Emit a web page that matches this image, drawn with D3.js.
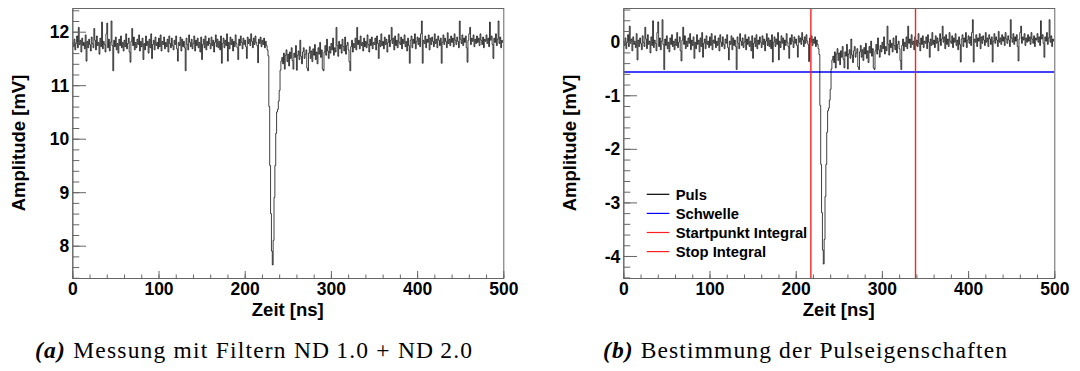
<!DOCTYPE html>
<html><head><meta charset="utf-8">
<script src="https://cdn.jsdelivr.net/npm/d3@7"></script>
<style>
html,body{margin:0;padding:0;background:#fff;}
svg{display:block;}
</style></head>
<body>
<svg id="chart" width="1080" height="371"></svg>
<script>
// ---------- data ----------
const sampleStepNs = 1;           // one sample per ns, t = 0 .. 499
const pulseMv = [
11.80,11.72,11.86,11.66,11.78,11.92,11.70,12.08,11.76,11.84,
11.62,11.88,11.74,11.80,11.68,11.94,11.45,11.82,11.70,11.86,
11.76,11.64,11.90,11.78,11.70,12.06,11.84,11.66,11.92,11.74,
11.80,11.58,11.88,11.72,12.18,11.68,11.82,11.76,11.62,11.96,
12.16,11.70,11.86,11.64,11.80,12.20,11.74,11.27,11.84,11.72,
11.90,11.66,11.78,11.60,11.86,11.74,11.92,11.70,11.80,11.64,
11.84,11.72,11.96,11.68,11.78,11.88,11.62,11.43,11.82,12.06,
11.74,11.90,11.66,11.80,11.70,11.86,11.76,11.94,11.64,11.82,
11.72,11.88,11.48,11.78,11.66,11.92,11.74,11.82,11.60,11.86,
11.70,11.96,11.50,11.76,11.84,11.66,11.90,11.74,11.80,11.68,
11.88,11.72,11.94,11.64,11.82,11.76,11.90,11.68,11.80,11.72,
11.86,11.62,11.92,11.78,11.70,11.88,11.74,11.66,11.84,11.76,
11.92,11.68,11.45,11.80,11.74,11.90,11.64,11.86,11.72,11.82,
11.70,11.27,11.88,11.76,11.66,11.94,11.80,11.72,11.86,11.68,
11.78,11.92,11.64,11.84,11.74,11.88,11.70,11.80,11.62,11.90,
11.48,11.76,11.86,11.70,11.92,11.66,11.82,11.74,11.88,11.78,
11.68,11.90,11.74,11.84,11.62,11.80,11.94,11.72,11.86,11.70,
11.82,11.66,11.92,11.41,11.78,11.88,11.70,11.84,11.74,11.96,
11.45,11.80,11.68,11.90,11.76,11.86,11.64,11.82,11.72,11.94,
11.78,11.70,11.48,11.86,11.74,11.92,11.80,11.68,11.88,11.76,
11.84,11.72,11.50,11.90,11.78,11.86,11.74,11.96,11.82,11.70,
11.88,11.76,11.92,11.80,11.74,11.42,11.86,11.78,11.90,11.72,
11.84,11.76,11.88,11.70,11.82,11.74,11.66,11.55,10.60,9.50,
8.60,7.90,7.64,8.10,8.90,9.50,10.10,10.50,10.55,10.70,
10.90,11.28,11.45,11.52,11.40,11.60,11.30,11.56,11.66,11.44,
11.58,11.36,11.62,11.50,11.70,11.46,11.30,11.60,11.52,11.74,
11.28,11.56,11.64,11.48,11.84,11.54,11.40,11.62,11.70,11.50,
11.58,11.66,11.32,11.27,11.60,11.72,11.50,11.64,11.44,11.68,
11.56,11.76,11.48,11.62,11.40,11.70,11.58,11.80,11.52,11.66,
11.30,11.27,11.62,11.74,11.56,11.86,11.64,11.50,11.72,11.60,
11.78,11.66,11.88,11.56,11.70,11.62,12.08,11.74,11.54,11.82,
11.68,11.76,11.60,11.86,11.72,11.64,11.90,11.58,11.74,11.80,
11.66,11.44,11.27,11.72,11.84,11.62,11.78,11.70,11.88,11.66,
12.08,11.76,11.84,11.68,11.92,11.74,11.80,11.64,11.88,11.72,
11.82,11.70,11.94,11.76,11.62,11.86,11.74,11.90,11.68,11.80,
11.76,11.88,11.66,11.92,11.78,11.50,11.84,11.72,11.96,11.74,
11.82,11.68,11.90,11.76,11.86,11.62,11.80,11.94,11.72,11.84,
12.08,11.78,11.88,11.66,11.92,11.74,11.84,11.70,11.96,11.80,
11.76,11.90,11.68,11.86,11.78,11.94,11.72,11.82,11.64,11.88,
11.74,11.41,11.84,11.92,11.70,11.86,11.78,11.96,11.68,11.82,
11.90,11.76,11.88,11.72,11.96,12.20,11.41,11.84,11.78,11.92,
11.70,11.86,11.80,11.94,11.66,11.88,11.76,11.90,11.82,11.72,
11.96,11.78,11.86,11.70,11.92,11.84,11.74,11.88,11.41,11.80,
11.94,11.76,11.88,11.82,11.70,11.98,11.78,11.86,11.74,11.92,
11.80,11.88,11.72,11.96,11.84,11.76,11.90,11.82,11.70,12.20,
11.86,11.78,11.94,11.74,11.88,11.80,11.92,11.70,11.43,11.84,
11.96,12.08,11.76,11.88,11.82,11.94,11.72,11.86,11.78,11.92,
11.80,11.88,11.74,11.96,11.84,11.76,11.90,11.70,11.86,11.82,
11.94,11.78,11.88,11.72,12.18,11.84,11.92,11.76,11.50,11.88,
11.80,11.96,11.74,11.86,12.20,11.78,11.90,11.70,11.84,11.80
];
const baselineMv = 11.79;          // subtracted for panel (b)
const thresholdMv = -0.565;        // "Schwelle"
const integralStartNs = 217.6;     // "Startpunkt Integral"
const integralStopNs = 339;        // "Stop Integral"
const xDomain = [0, 500];
const xMajorTicks = [0, 100, 200, 300, 400, 500];
const yDomainA = [7.396, 12.443];
const yMajorTicksA = [8, 9, 10, 11, 12];
const yDomainB = [-4.411, 0.629];
const yMajorTicksB = [-4, -3, -2, -1, 0];
const legendLabels = ["Puls", "Schwelle", "Startpunkt Integral", "Stop Integral"];
const legendColors = ["#000000", "#0000ff", "#ff2020", "#ff2020"];
const captionA = ["(a)", " Messung mit Filtern ND\u20091.0 + ND\u20092.0"];
const captionB = ["(b)", " Bestimmung der Pulseigenschaften"];

// ---------- drawing ----------
const svg = d3.select("#chart");
svg.append("rect").attr("width",1080).attr("height",371).attr("fill","#fff");

const SANS = "'Liberation Sans', Arial, Helvetica, sans-serif";
const SERIF = "'Liberation Serif', 'Times New Roman', serif";
const frameColor = "#666";

function panel(opts){
  const g = svg.append("g").attr("transform", `translate(${opts.left},0)`);
  const W = 431, top = 8, bottom = 278;
  const x = d3.scaleLinear().domain(xDomain).range([0, W]);
  const y = d3.scaleLinear().domain(opts.yDomain).range([bottom, top]);

  const clipId = "clip" + opts.id;
  g.append("clipPath").attr("id", clipId).append("rect")
    .attr("x",0).attr("y",top).attr("width",W).attr("height",bottom-top);

  const plot = g.append("g").attr("clip-path", `url(#${clipId})`);

  if (opts.markers) {
    plot.append("line").attr("x1",0).attr("x2",W)
      .attr("y1",y(thresholdMv)).attr("y2",y(thresholdMv))
      .attr("stroke",legendColors[1]).attr("stroke-width",1.4);
  }

  const pts = opts.values.map((v,i)=>[i*sampleStepNs, v]);
  pts.push([xDomain[1], opts.values[opts.values.length-1]]);
  const line = d3.line().x(d=>x(d[0])).y(d=>y(d[1])).curve(d3.curveStepAfter);
  plot.append("path").attr("d", line(pts)).attr("fill","none")
    .attr("stroke","#000").attr("stroke-width",0.75);

  if (opts.markers) {
    [integralStartNs, integralStopNs].forEach((t,k)=>{
      plot.append("line").attr("x1",x(t)).attr("x2",x(t))
        .attr("y1",top).attr("y2",bottom)
        .attr("stroke",legendColors[2+k]).attr("stroke-width",1.4);
    });
  }

  g.append("rect").attr("x",0.5).attr("y",top+0.5).attr("width",W).attr("height",bottom-top)
    .attr("fill","none").attr("stroke",frameColor).attr("stroke-width",1);

  const xMinor = d3.range(xDomain[0], xDomain[1]+0.001, 20);
  g.append("g").attr("transform",`translate(0,${bottom})`)
    .call(d3.axisBottom(x).tickValues(xMinor).tickSizeInner(-3.5).tickSizeOuter(0).tickFormat(""))
    .call(a=>{a.select(".domain").remove(); a.selectAll("line").attr("stroke",frameColor);});
  const xa = g.append("g").attr("transform",`translate(0,${bottom})`)
    .call(d3.axisBottom(x).tickValues(xMajorTicks).tickSizeInner(-7).tickSizeOuter(0).tickPadding(4.5));
  xa.select(".domain").attr("stroke",frameColor);
  xa.selectAll("line").attr("stroke",frameColor);
  xa.selectAll("text").attr("font-family",SANS).attr("font-weight","bold")
    .attr("font-size",17.5).attr("fill","#000");

  const lo = Math.ceil(opts.yDomain[0]/0.2-1e-6), hi = Math.floor(opts.yDomain[1]/0.2+1e-6);
  const yMinor = d3.range(lo, hi+1).map(k=>+(k*0.2).toFixed(2));
  g.append("g")
    .call(d3.axisLeft(y).tickValues(yMinor).tickSizeInner(-7).tickSizeOuter(0).tickFormat(""))
    .call(a=>{a.select(".domain").remove(); a.selectAll("line").attr("stroke",frameColor);});
  const ya = g.append("g")
    .call(d3.axisLeft(y).tickValues(opts.yTicks).tickSizeInner(-13.7).tickSizeOuter(0)
      .tickPadding(3).tickFormat(d=>String(d)));
  ya.select(".domain").attr("stroke",frameColor);
  ya.selectAll("line").attr("stroke",frameColor);
  ya.selectAll("text").attr("font-family",SANS).attr("font-weight","bold")
    .attr("font-size",17.5).attr("fill","#000").attr("dy","0.35em");

  g.append("text").attr("x",W/2).attr("y",316).attr("text-anchor","middle")
    .attr("font-family",SANS).attr("font-weight","bold").attr("font-size",18.5)
    .text("Zeit [ns]");
  g.append("text").attr("transform",`translate(-47.5,${(top+bottom)/2}) rotate(-90)`)
    .attr("text-anchor","middle")
    .attr("font-family",SANS).attr("font-weight","bold").attr("font-size",18.5)
    .text("Amplitude [mV]");

  if (opts.markers) {
    const lg = g.append("g");
    legendLabels.forEach((lab,i)=>{
      const by = 200 + i*19.1;
      lg.append("line").attr("x1",23.4).attr("x2",46).attr("y1",by-5.7).attr("y2",by-5.7)
        .attr("stroke",legendColors[i]).attr("stroke-width",1.2);
      lg.append("text").attr("x",52.4).attr("y",by)
        .attr("font-family",SANS).attr("font-weight","bold").attr("font-size",14.8)
        .text(lab);
    });
  }

  const cap = svg.append("text").attr("x",opts.capX).attr("y",358)
    .attr("font-family",SERIF).attr("font-size",23.5).attr("fill","#000")
    .attr("textLength",opts.capW).attr("lengthAdjust","spacing");
  cap.append("tspan").attr("font-weight","bold").attr("font-style","italic").text(opts.caption[0]);
  cap.append("tspan").text(opts.caption[1]);
}

panel({id:"a", left:72.3, yDomain:yDomainA, yTicks:yMajorTicksA,
  values: pulseMv, markers:false, caption:captionA, capX:35, capW:437});
panel({id:"b", left:623.3, yDomain:yDomainB, yTicks:yMajorTicksB,
  values: pulseMv.map(v=>v-baselineMv), markers:true, caption:captionB, capX:603, capW:404});
</script>
</body></html>
